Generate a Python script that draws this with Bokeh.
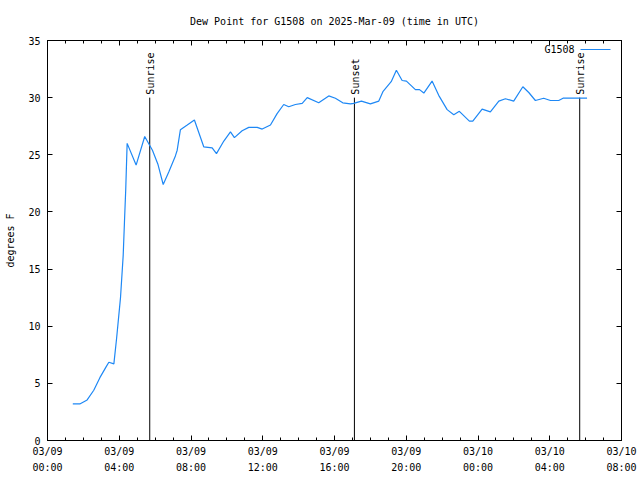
import math
from bokeh.plotting import figure
from bokeh.models import (FixedTicker, LinearAxis, Label, Arrow, Range1d, ColumnDataSource,
                          CustomLabelingPolicy, Title)
from bokeh.core.properties import value
from bokeh.embed import file_html
from bokeh.resources import INLINE

# ---- data (hours since 2025-03-09 00:00 UTC) ----
hours = [1.41, 1.80, 2.21, 2.58, 2.92, 3.25, 3.42, 3.70, 3.85, 4.07, 4.22, 4.29, 4.36, 4.44,
         4.94, 5.42, 5.85, 6.15, 6.45, 6.76, 7.13, 7.23, 7.41, 7.79, 8.19, 8.71, 9.18, 9.42,
         9.83, 10.20, 10.42, 10.85, 11.22, 11.69, 11.97, 12.43, 12.80, 13.17, 13.45, 13.82,
         14.20, 14.48, 15.12, 15.68, 16.05, 16.46, 16.89, 17.07, 17.50, 18.00, 18.47, 18.71,
         19.16, 19.45, 19.77, 20.01, 20.51, 20.74, 20.98, 21.44, 21.81, 22.28, 22.65, 22.96,
         23.52, 23.71, 24.23, 24.69, 25.16, 25.53, 25.99, 26.50, 26.83, 27.20, 27.66, 28.04,
         28.50, 28.74, 30.08]
dewpoint = [3.2, 3.2, 3.55, 4.4, 5.5, 6.4, 6.85, 6.7, 8.9, 12.5, 16.2, 19.1, 21.9, 26.0,
            24.1, 26.6, 25.4, 24.2, 22.4, 23.5, 24.9, 25.4, 27.2, 27.6, 28.05, 25.7, 25.6, 25.1,
            26.2, 27.0, 26.5, 27.1, 27.4, 27.4, 27.25, 27.6, 28.6, 29.4, 29.2, 29.4,
            29.5, 30.0, 29.55, 30.15, 29.95, 29.55, 29.45, 29.5, 29.7, 29.45, 29.7, 30.55,
            31.4, 32.4, 31.5, 31.45, 30.7, 30.7, 30.4, 31.45, 30.2, 28.95, 28.5, 28.8,
            27.95, 27.95, 29.0, 28.75, 29.7, 29.9, 29.7, 30.95, 30.45, 29.75, 29.95, 29.75,
            29.75, 29.95, 29.95]

event_hours = [5.70, 17.11, 29.67]
event_names = ["Sunrise", "Sunset", "Sunrise"]
event_top = [30, 30, 30]
event_base = [0, 0, 0]

x_ticks = [0, 4, 8, 12, 16, 20, 24, 28, 32]
x_tick_labels = ["03/09\n00:00", "03/09\n04:00", "03/09\n08:00", "03/09\n12:00",
                 "03/09\n16:00", "03/09\n20:00", "03/10\n00:00", "03/10\n04:00",
                 "03/10\n08:00"]
x_minor = list(range(0, 33))
y_ticks = [0, 5, 10, 15, 20, 25, 30, 35]

TITLE = "Dew Point for G1508 on 2025-Mar-09 (time in UTC)"
FONT = "DejaVu Sans Mono"
FS = "10px"
BLUE = "#1e88f5"

p = figure(width=640, height=480, output_backend="svg", toolbar_location=None,
           x_range=Range1d(0, 32), y_range=Range1d(0, 35), x_axis_type=None, y_axis_type=None,
           min_border_left=47, min_border_right=19, min_border_top=40, min_border_bottom=40)
p.outline_line_color = "black"
p.outline_line_width = 1
p.background_fill_color = "white"
p.border_fill_color = "white"
p.xgrid.visible = False
p.ygrid.visible = False

hide_all = CustomLabelingPolicy(code="for (const i of indices) { indices.unset(i) } return indices")


def style(ax, labels=True):
    ax.major_tick_in = 5
    ax.major_tick_out = 0
    ax.minor_tick_in = 3
    ax.minor_tick_out = 0
    ax.axis_line_color = "black"
    ax.major_tick_line_color = "black"
    ax.minor_tick_line_color = "black"
    ax.major_label_text_font = FONT
    ax.major_label_text_font_size = FS
    ax.major_label_text_color = "black"
    ax.axis_label_text_font = FONT
    ax.axis_label_text_font_size = FS
    ax.axis_label_text_font_style = "normal"
    ax.axis_label_text_color = "black"
    if not labels:
        ax.major_label_policy = hide_all
        ax.major_label_standoff = 0


xt = FixedTicker(ticks=x_ticks, minor_ticks=x_minor)
yt = FixedTicker(ticks=y_ticks)

bottom = LinearAxis(ticker=xt)
style(bottom)
bottom.major_label_overrides = dict(zip(x_ticks, x_tick_labels))
bottom.major_label_standoff = 5
bottom.major_label_text_line_height = 1.5
p.add_layout(bottom, "below")

top = LinearAxis(ticker=xt)
style(top, labels=False)
p.add_layout(top, "above")

# title goes outside the (label-less) top axis
title = Title(text=TITLE, align="center", standoff=6, text_font=FONT, text_font_size=FS,
              text_font_style="normal", text_color="black")
p.add_layout(title, "above")

left = LinearAxis(ticker=yt, axis_label="degrees F")
style(left)
left.major_label_standoff = 7
left.axis_label_standoff = 9
p.add_layout(left, "left")

right = LinearAxis(ticker=yt)
style(right, labels=False)
p.add_layout(right, "right")

# event lines
ev = ColumnDataSource(dict(x=event_hours, y0=event_base, y1=event_top, name=event_names))
p.segment(x0="x", y0="y0", x1="x", y1="y1", source=ev, line_color="black", line_width=1)
p.text(x="x", y="y1", text="name", source=ev, angle=math.pi / 2, text_align="left",
       text_baseline="middle", x_offset=1, y_offset=-3, text_font=value(FONT),
       text_font_size=FS, text_color="black")

# data line
p.line(hours, dewpoint, line_color=BLUE, line_width=1.2)

# legend (gnuplot style: label then sample)
p.add_layout(Label(x=527, y=391, x_units="screen", y_units="screen", text="G1508",
                   text_align="right", text_baseline="middle", text_font=FONT,
                   text_font_size=FS, text_color="black"))
p.add_layout(Arrow(end=None, start=None, x_start=533, y_start=391, x_end=563, y_end=391,
                   start_units="screen", end_units="screen", line_color=BLUE, line_width=1.2))

open("out.html", "w").write(file_html(p, INLINE))
